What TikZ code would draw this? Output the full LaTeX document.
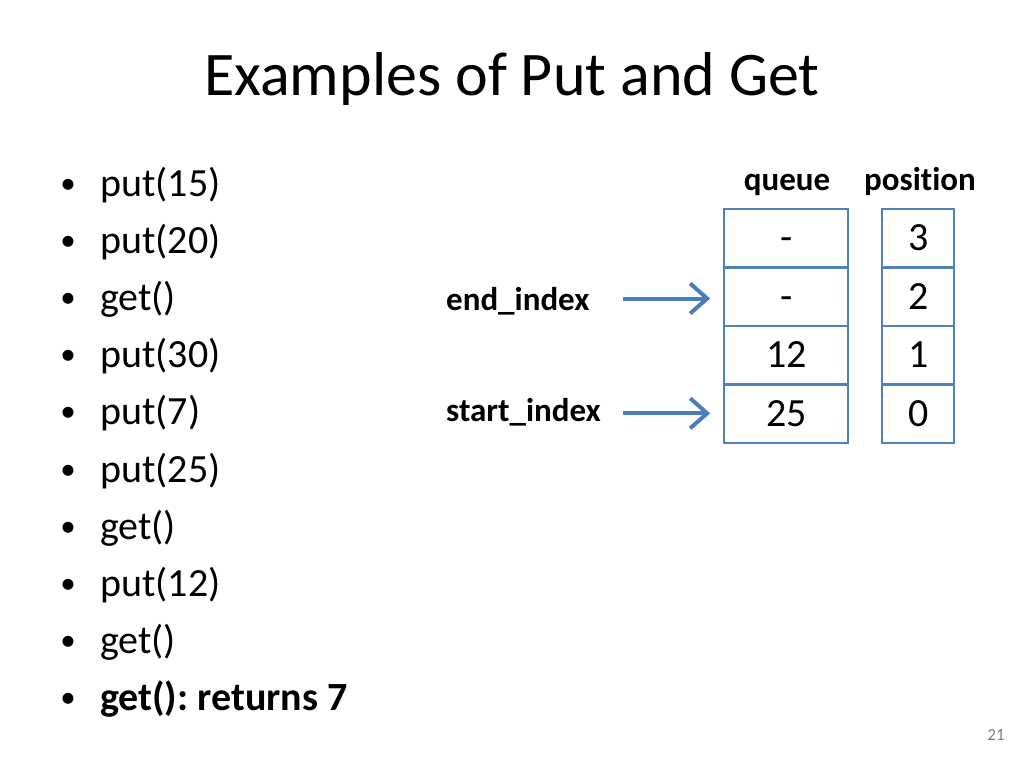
\documentclass[tikz,border=0pt]{standalone}
\usepackage{fontspec}
\setmainfont{Carlito}[Ligatures=NoCommon]
\usetikzlibrary{arrows.meta}
\definecolor{boxblue}{HTML}{4F81BD}
\definecolor{arrblue}{HTML}{4A7EBB}
\frenchspacing
\tikzset{
  title/.style={anchor=base,inner sep=0pt,font=\fontsize{62}{70}\selectfont},
  item/.style={anchor=base west,inner sep=0pt,font=\fontsize{40}{48}\selectfont},
  bul/.style={anchor=base,inner sep=0pt,font=\fontsize{31}{36}\selectfont},
  lbl/.style={anchor=base,inner sep=0pt,font=\fontsize{33}{40}\selectfont\bfseries},
  lblw/.style={anchor=base west,inner sep=0pt,font=\fontsize{33}{40}\selectfont\bfseries},
  qcell/.style={draw=boxblue,line width=2.2pt,minimum width=124pt,minimum height=58.5pt,inner sep=0pt,
    text height=25pt,text depth=0pt,font=\fontsize{40}{48}\selectfont},
  pcell/.style={qcell,minimum width=72pt},
  arr/.style={draw=arrblue,line width=4pt,-{Straight Barb[length=17pt,width=30pt,line width=4pt]}},
  pnum/.style={anchor=base,inner sep=0pt,text=gray,font=\fontsize{17}{20}\selectfont},
}
\begin{document}
\begin{tikzpicture}[x=1pt,y=-1pt]
\useasboundingbox (0,0) rectangle (1024,768);
\fill[white] (0,0) rectangle (1024,768);
\node[title] (t) at (512,95) {Examples of Put and Get};
% bullets
\foreach \i/\txt in {0/put(15),1/put(20),2/get(),3/put(30),4/put(7),5/put(25),6/get(),7/put(12),8/get()}{
  \node[bul] (b\i) at (68,{193+57.2*\i}) {•};
  \node[item] (l\i) at (100,{196+57.2*\i}) {\txt};
}
\node[bul] (b9) at (68,707.8) {•};
\node[item,font=\fontsize{40}{48}\selectfont\bfseries] (l9) at (100,710.8) {get(): returns 7};
% headers
\node[lbl] (hq) at (787,190) {queue};
\node[lbl] (hp) at (920,190) {posit\kern0pt ion};
% queue cells
\node[qcell] (q3) at (786.3,238.3) {-};
\node[qcell] (q2) at (786.3,296.8) {-};
\node[qcell] (q1) at (786.3,355.3) {12};
\node[qcell] (q0) at (786.3,413.8) {25};
\node[pcell] (p3) at (918.3,238.3) {3};
\node[pcell] (p2) at (918.3,296.8) {2};
\node[pcell] (p1) at (918.3,355.3) {1};
\node[pcell] (p0) at (918.3,413.8) {0};
% labels and arrows
\node[lblw] (ei) at (446,310) {end\_index};
\node[lblw] (si) at (446,421) {start\_index};
\coordinate (ea) at (623,298.5);
\coordinate (sa) at (623,413.3);
\draw[arr] (ea) -- ([xshift=-13pt]ea -| q2.west);
\draw[arr] (sa) -- ([xshift=-13pt]sa -| q0.west);
\node[pnum] (pn) at (996,740) {21};
\end{tikzpicture}
\end{document}
